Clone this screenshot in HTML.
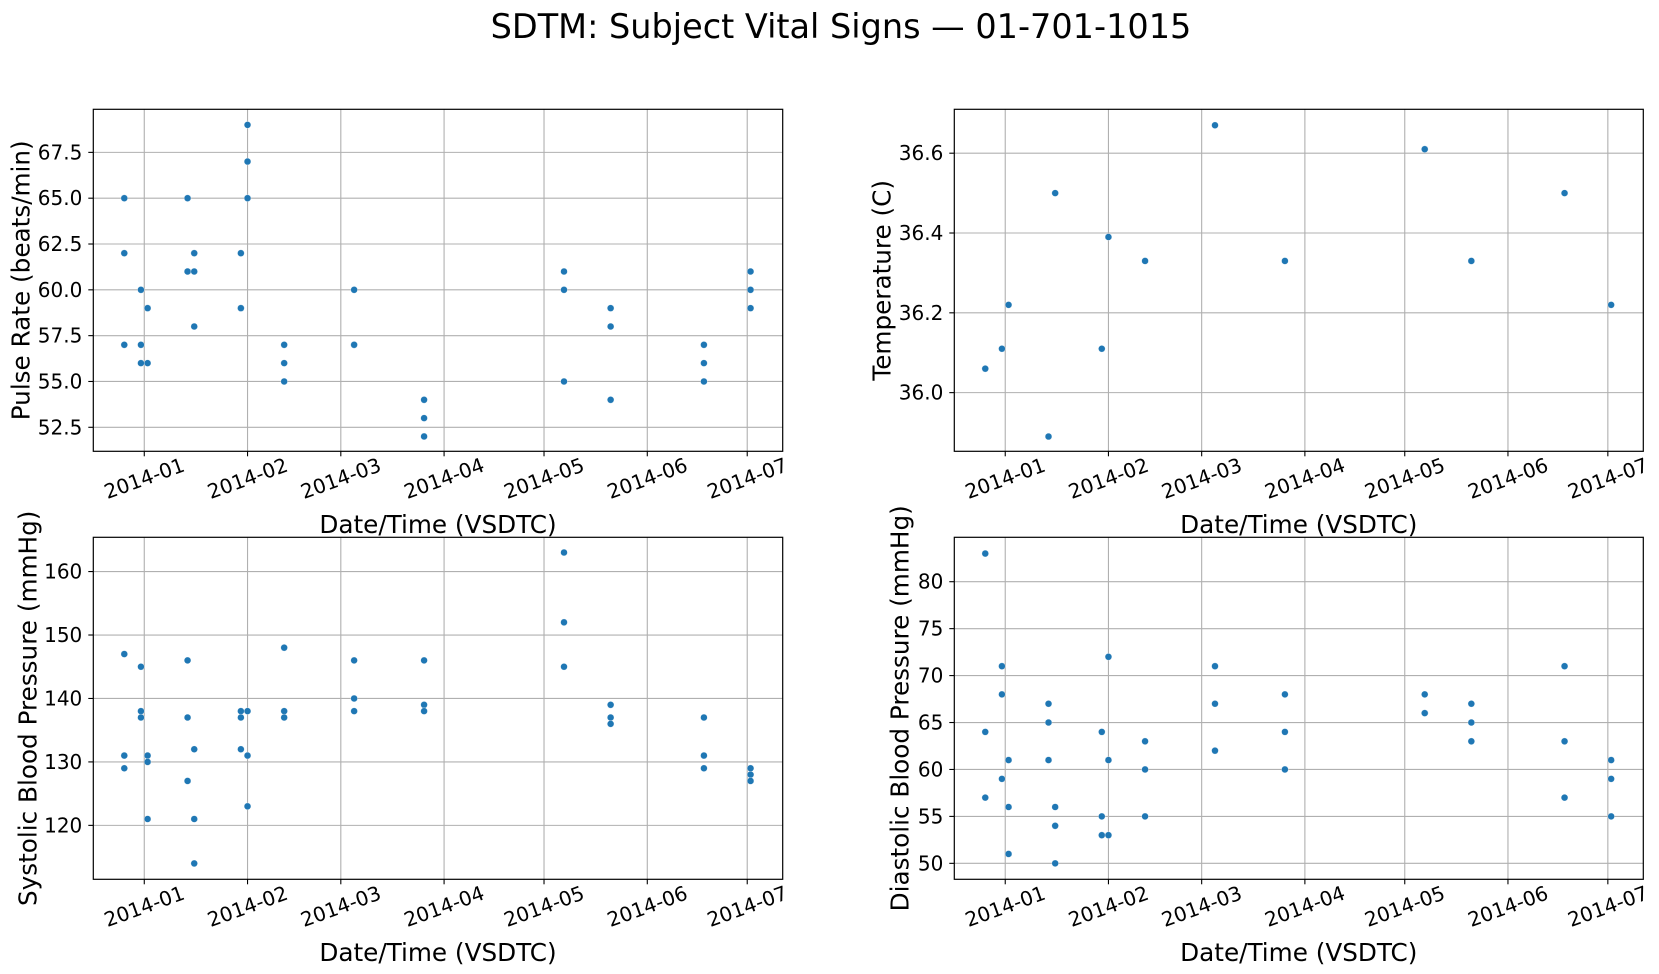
<!DOCTYPE html>
<html><head><meta charset="utf-8"><style>
html,body{margin:0;padding:0;background:#fff;}
svg{display:block;font-family:"DejaVu Sans","Liberation Sans",sans-serif;}
</style></head><body>
<svg id="fig" width="1659" height="974" viewBox="0 0 1659 974">
<text x="841" y="38" font-size="33.5" text-anchor="middle" fill="#000">SDTM: Subject Vital Signs — 01-701-1015</text>
</svg>
<script>
// visit days (offset from 2014-01-01)
const pulseDays = [-6,-6,-6,-1,-1,-1,1,1,1,13,13,13,15,15,15,29,29,29,31,31,31,42,42,42,63,63,63,84,84,84,126,126,126,140,140,140,168,168,168,182,182,182];
const pulseVals = [65,62,57,60,57,56,59,59,56,65,61,61,62,61,58,62,59,59,69,67,65,57,56,55,60,57,57,54,53,52,61,60,55,59,58,54,57,56,55,61,60,59];
const tempDays = [-6,-1,1,13,15,29,31,42,63,84,126,140,168,182];
const tempVals = [36.06,36.11,36.22,35.89,36.50,36.11,36.39,36.33,36.67,36.33,36.61,36.33,36.50,36.22];
const sysDays = [-6,-6,-6,-1,-1,-1,1,1,1,13,13,13,15,15,15,29,29,29,31,31,31,42,42,42,63,63,63,84,84,84,126,126,126,140,140,140,168,168,168,182,182,182];
const sysVals = [147,131,129,145,138,137,131,130,121,146,137,127,132,121,114,138,137,132,138,131,123,148,138,137,146,140,138,146,139,138,163,152,145,139,137,136,137,131,129,129,128,127];
const diaDays = sysDays;
const diaVals = [83,64,57,71,68,59,61,56,51,67,65,61,56,54,50,64,55,53,72,61,53,63,60,55,71,67,62,68,64,60,68,66,66,67,65,63,71,63,57,61,59,55];
const xTickLabels = ["2014-01","2014-02","2014-03","2014-04","2014-05","2014-06","2014-07"];
const xTickDays = [0,31,59,90,120,151,181];
const pulseTicks = [52.5,55.0,57.5,60.0,62.5,65.0,67.5];
const tempTicks = [36.0,36.2,36.4,36.6];
const sysTicks = [120,130,140,150,160];
const diaTicks = [50,55,60,65,70,75,80];

const NS="http://www.w3.org/2000/svg";
const svg=document.getElementById('fig');
function mk(tag,attrs,parent){const e=document.createElementNS(NS,tag);for(const k in attrs)e.setAttribute(k,attrs[k]);(parent||svg).appendChild(e);return e;}

const panels=[
 {name:'pulse',x0:93.3,x1:782.7,y0:109.3,y1:451.3,ymin:51.19,ymax:69.85,ticks:pulseTicks,dec:1,days:pulseDays,vals:pulseVals,ylab:'Pulse Rate (beats/min)',ylx:21},
 {name:'temperature',x0:954.3,x1:1643.3,y0:109.3,y1:451.3,ymin:35.853,ymax:36.71,ticks:tempTicks,dec:1,days:tempDays,vals:tempVals,ylab:'Temperature (C)',ylx:882},
 {name:'systolic',x0:93.3,x1:782.7,y0:537.3,y1:879.3,ymin:111.5,ymax:165.4,ticks:sysTicks,dec:0,days:sysDays,vals:sysVals,ylab:'Systolic Blood Pressure (mmHg)',ylx:28},
 {name:'diastolic',x0:954.3,x1:1643.3,y0:537.3,y1:879.3,ymin:48.3,ymax:84.73,ticks:diaTicks,dec:0,days:diaDays,vals:diaVals,ylab:'Diastolic Blood Pressure (mmHg)',ylx:900}
];
const DMIN=-15.3, DMAX=191.65;

panels.forEach(p=>{
  const g=mk('g',{});
  
  
  const xs=d=>p.x0+(d-DMIN)/(DMAX-DMIN)*(p.x1-p.x0);
  const ys=v=>p.y1-(v-p.ymin)/(p.ymax-p.ymin)*(p.y1-p.y0);
  xTickDays.forEach((d,i)=>{
    const x=xs(d);
    const l=mk('line',{x1:x,x2:x,y1:p.y0,y2:p.y1,stroke:'#b0b0b0','stroke-width':1.1},g);
    
    
    const t=mk('line',{x1:x,x2:x,y1:p.y1,y2:p.y1+5,stroke:'#000','stroke-width':1.1},g);
    
    
    const cy=p.y1+27;
    const tx=mk('text',{x:x,y:cy,'font-size':20,'text-anchor':'middle','dominant-baseline':'central',transform:`rotate(-20 ${x} ${cy})`},g);
    tx.textContent=xTickLabels[i];
    
    
  });
  p.ticks.forEach(v=>{
    const y=ys(v);
    const l=mk('line',{x1:p.x0,x2:p.x1,y1:y,y2:y,stroke:'#b0b0b0','stroke-width':1.1},g);
    
    
    const t=mk('line',{x1:p.x0-5,x2:p.x0,y1:y,y2:y,stroke:'#000','stroke-width':1.1},g);
    
    
    const tx=mk('text',{x:p.x0-11,y:y,'font-size':20,'text-anchor':'end','dominant-baseline':'central'},g);
    tx.textContent=v.toFixed(p.dec);
    
    
  });
  p.days.forEach((d,i)=>{
    const c=mk('circle',{cx:xs(d),cy:ys(p.vals[i]),r:3.4,fill:'#1f77b4',stroke:'#fff','stroke-width':0.3},g);
    
    
  });
  const fr=mk('rect',{x:p.x0,y:p.y0,width:p.x1-p.x0,height:p.y1-p.y0,fill:'none',stroke:'#000','stroke-width':1.2},g);
  
  
  const xl=mk('text',{x:(p.x0+p.x1)/2,y:p.y1+73,'font-size':24.7,'text-anchor':'middle','dominant-baseline':'central'},g);
  xl.textContent='Date/Time (VSDTC)';
  
  
  const cy=(p.y0+p.y1)/2;
  const yl=mk('text',{x:p.ylx,y:cy,'font-size':24.7,'text-anchor':'middle','dominant-baseline':'central',transform:`rotate(-90 ${p.ylx} ${cy})`},g);
  yl.textContent=p.ylab;
  
  
});
</script>
</body></html>
